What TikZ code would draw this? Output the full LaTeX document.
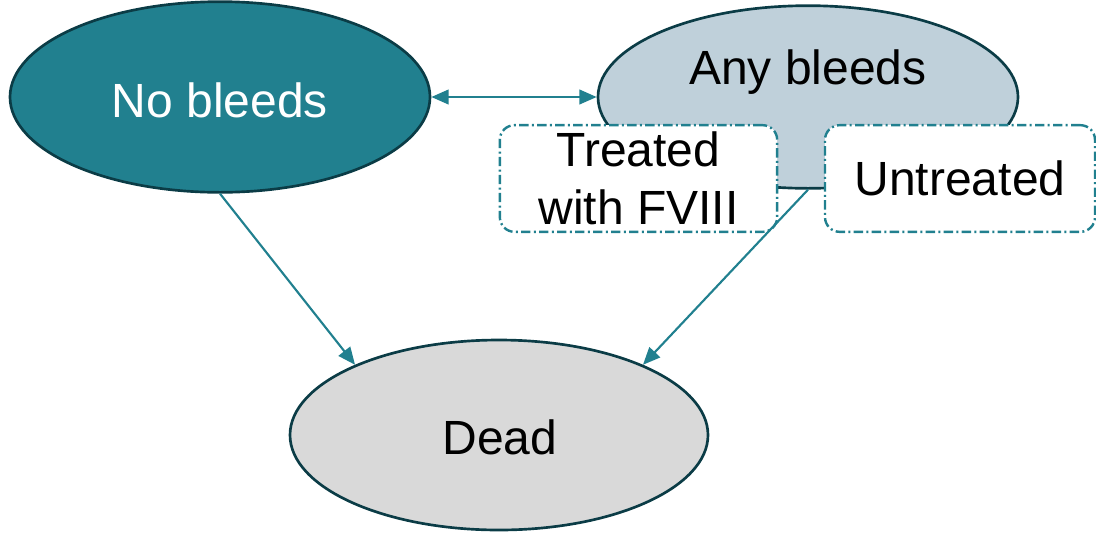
\documentclass[tikz,border=0pt]{standalone}
\usepackage{fontspec}
\setmainfont{Liberation Sans}
\usetikzlibrary{shapes.geometric,arrows.meta}

\definecolor{tealfill}{RGB}{33,128,143}
\definecolor{darkrim}{RGB}{11,60,70}
\definecolor{blueish}{RGB}{191,208,218}
\definecolor{lightgrey}{RGB}{217,217,217}

\begin{document}
\begin{tikzpicture}[x=0.75pt, y=-0.75pt,
  every node/.style = {font=\fontsize{36}{43.5}\selectfont, align=center},
  state/.style = {shape=ellipse, draw=darkrim, line width=2pt, inner sep=0pt},
  subbox/.style = {shape=rectangle, draw=tealfill, fill=white, line width=1.8pt,
    rounded corners=11pt, minimum height=80pt,
    dash pattern=on 7pt off 2.5pt on 1.5pt off 2.5pt},
  link/.style = {draw=tealfill, line width=1.6pt,
    -{Triangle[length=13pt,width=11pt]}}]
  \useasboundingbox (0,0) rectangle (1096,533);

  \node[state, fill=tealfill, minimum width=315pt, minimum height=143pt]
    (nobleed) at (220,97) {};
  \node[text=white] (nobleedtext) at (220,100) {No bleeds};
  \node[state, fill=blueish, minimum width=315pt, minimum height=137pt]
    (anybleed) at (808,97) {};
  \node (anybleedtext) at (808,72) {Any bleeds};
  \node[state, fill=lightgrey, minimum width=313.5pt, minimum height=142.5pt]
    (dead) at (499,435) {};
  \node (deadtext) at (500,437) {Dead};

  \node[subbox, minimum width=208pt] (treated) at (638.5,178.5)
    {Treated\\with FVIII};
  \node[subbox, minimum width=202.5pt] (untreated) at (960,178.5) {Untreated};

  \draw[link, {Triangle[length=13pt,width=11pt]}-{Triangle[length=13pt,width=11pt]}]
    (nobleed.east) -- (anybleed.west);
  \draw[link] (nobleed.south) -- (dead.154);
  \draw[link] (anybleed.south) -- (dead.26);
\end{tikzpicture}
\end{document}
